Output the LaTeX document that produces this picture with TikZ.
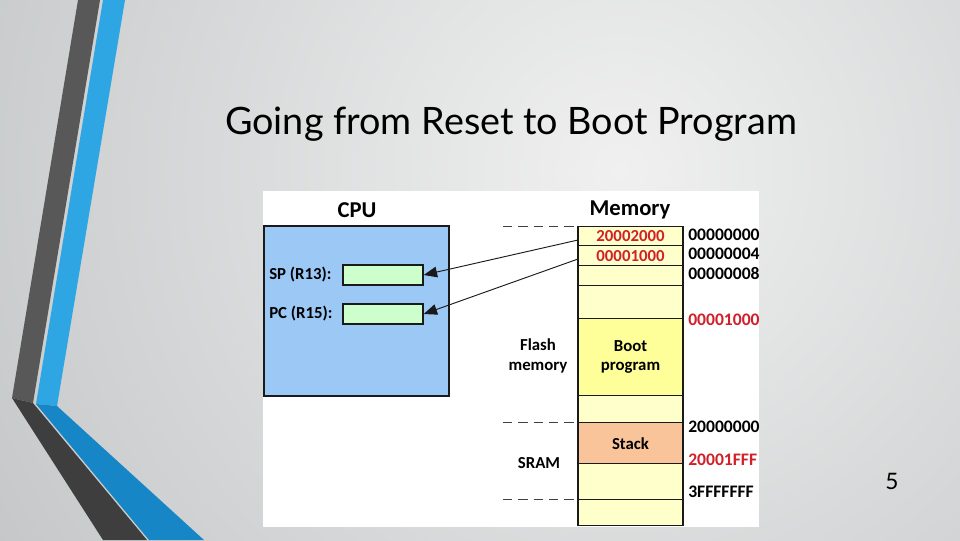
\documentclass[tikz,border=0pt]{standalone}
\usepackage{fontspec}
\setmainfont{Carlito}
\newfontfamily\titlefont{Lato}
\usetikzlibrary{arrows.meta}
\definecolor{bgin}{HTML}{F0F0F0}
\definecolor{bgout}{HTML}{C3C6C7}
\definecolor{darkband}{HTML}{585858}
\definecolor{darkbandlow}{HTML}{3E3E3E}
\definecolor{blueband}{HTML}{2EA6E4}
\definecolor{bluebandlow}{HTML}{1686C6}
\definecolor{cpublue}{HTML}{9CC8F6}
\definecolor{reggreen}{HTML}{CCFFCC}
\definecolor{memyellow}{HTML}{FFFFCC}
\definecolor{bootyellow}{HTML}{FFFF99}
\definecolor{stackorange}{HTML}{F9C49A}
\definecolor{addrred}{HTML}{D0202A}
\definecolor{edge}{HTML}{1A1A1A}
\tikzset{
  cell/.style={draw=edge, line width=1.1pt, minimum width=78.75pt, inner sep=0pt, font=\bfseries\fontsize{12.6}{14.5}\selectfont, align=center},
  regbox/.style={draw=edge, line width=1.1pt, fill=reggreen, minimum width=60pt, minimum height=15pt, inner sep=0pt},
  lbl/.style={font=\bfseries\fontsize{12.6}{15}\selectfont, inner sep=0pt, align=center},
  addr/.style={font=\bfseries\fontsize{13.2}{15}\selectfont, inner sep=0pt, anchor=west},
  head/.style={font=\bfseries\fontsize{17}{19}\selectfont, inner sep=0pt},
  divider/.style={dash pattern=on 7pt off 4.5pt, line width=0.6pt, draw=black!75},
  ptr/.style={draw=edge, line width=0.7pt, -{Triangle[length=10pt, width=8pt]}}
}
\newcommand\memcell[5]{\node[cell, fill=#4, minimum height={(#3-#2)*0.75pt}, anchor=north] (#1) at (630.5,#2) {#5};}
\begin{document}
\begin{tikzpicture}[x=0.75pt,y=-0.75pt]
\useasboundingbox (0,0) rectangle (960,540);
% background
\begin{scope}
\clip (0,0) rectangle (960,540);
\shade[inner color=bgin, outer color=bgout] (620,170) circle (760);
\end{scope}
% left bands
\fill[darkband] (78,0) -- (100,0) -- (33,403) -- (12,398) -- cycle;
\fill[darkbandlow] (12,398) -- (33,403) -- (147,540) -- (103,540) -- cycle;
\fill[blueband] (103,0) -- (125,0) -- (57,406) -- (36,404) -- cycle;
\fill[bluebandlow] (36,404) -- (57,406) -- (204,540) -- (149,540) -- cycle;
% title
\node[font=\titlefont\fontsize{28.3}{33}\selectfont, inner sep=0pt] (title) at (511,124) {Going from Reset to Boot Program};
\node[font=\titlefont\fontsize{17}{20}\selectfont, inner sep=0pt] (pagenum) at (892,481) {5};
% picture area
\fill[white] (263,191) rectangle (759,527);
% CPU
\node[head] (cputitle) at (357,210) {CPU};
\node[draw=edge, line width=1.3pt, fill=cpublue, minimum width=138.75pt, minimum height=127.5pt, inner sep=0pt] (cpu) at (356.5,311) {};
\node[regbox] (sp) at (383,275) {};
\node[regbox] (pc) at (383,314) {};
\node[lbl, anchor=west] (splbl) at (269,275) {SP (R13):};
\node[lbl, anchor=west] (pclbl) at (269,314) {PC (R15):};
% Memory
\node[head] (memtitle) at (630,210) {Memory};
\memcell{m1}{226}{245}{memyellow}{\textcolor{addrred}{20002000}}
\memcell{m2}{245}{265}{memyellow}{\textcolor{addrred}{00001000}}
\memcell{m3}{265}{285}{memyellow}{}
\memcell{m4}{285}{318}{memyellow}{}
\memcell{m5}{318}{395}{bootyellow}{Boot\\program}
\memcell{m6}{395}{422}{memyellow}{}
\memcell{m7}{422}{463}{stackorange}{Stack}
\memcell{m8}{463}{499}{memyellow}{}
\memcell{m9}{499}{525}{memyellow}{}
% addresses
\node[addr] (a0) at (688,235) {00000000};
\node[addr] (a4) at (688,254) {00000004};
\node[addr] (a8) at (688,273) {00000008};
\node[addr, text=addrred] (a1000) at (688,320) {00001000};
\node[addr] (a2000) at (688,427) {20000000};
\node[addr, text=addrred] (a2fff) at (688,460) {20001FFF};
\node[addr] (a3fff) at (688,492) {3FFFFFFF};
% region labels
\node[lbl] (flash) at (538,356) {Flash\\memory};
\node[lbl] (sram) at (539,463) {SRAM};
% dividers
\coordinate (d1) at (503,226);
\coordinate (d2) at (503,422);
\coordinate (d3) at (503,499);
\draw[divider] (d1) -- (m1.north west);
\draw[divider] (d2) -- (m7.north west);
\draw[divider] (d3) -- (m9.north west);
% pointers
\coordinate (s1) at (578,240);
\coordinate (s2) at (578,259);
\draw[ptr] (s1) -- (sp.east);
\draw[ptr] (s2) -- (pc.east);
\end{tikzpicture}
\end{document}
